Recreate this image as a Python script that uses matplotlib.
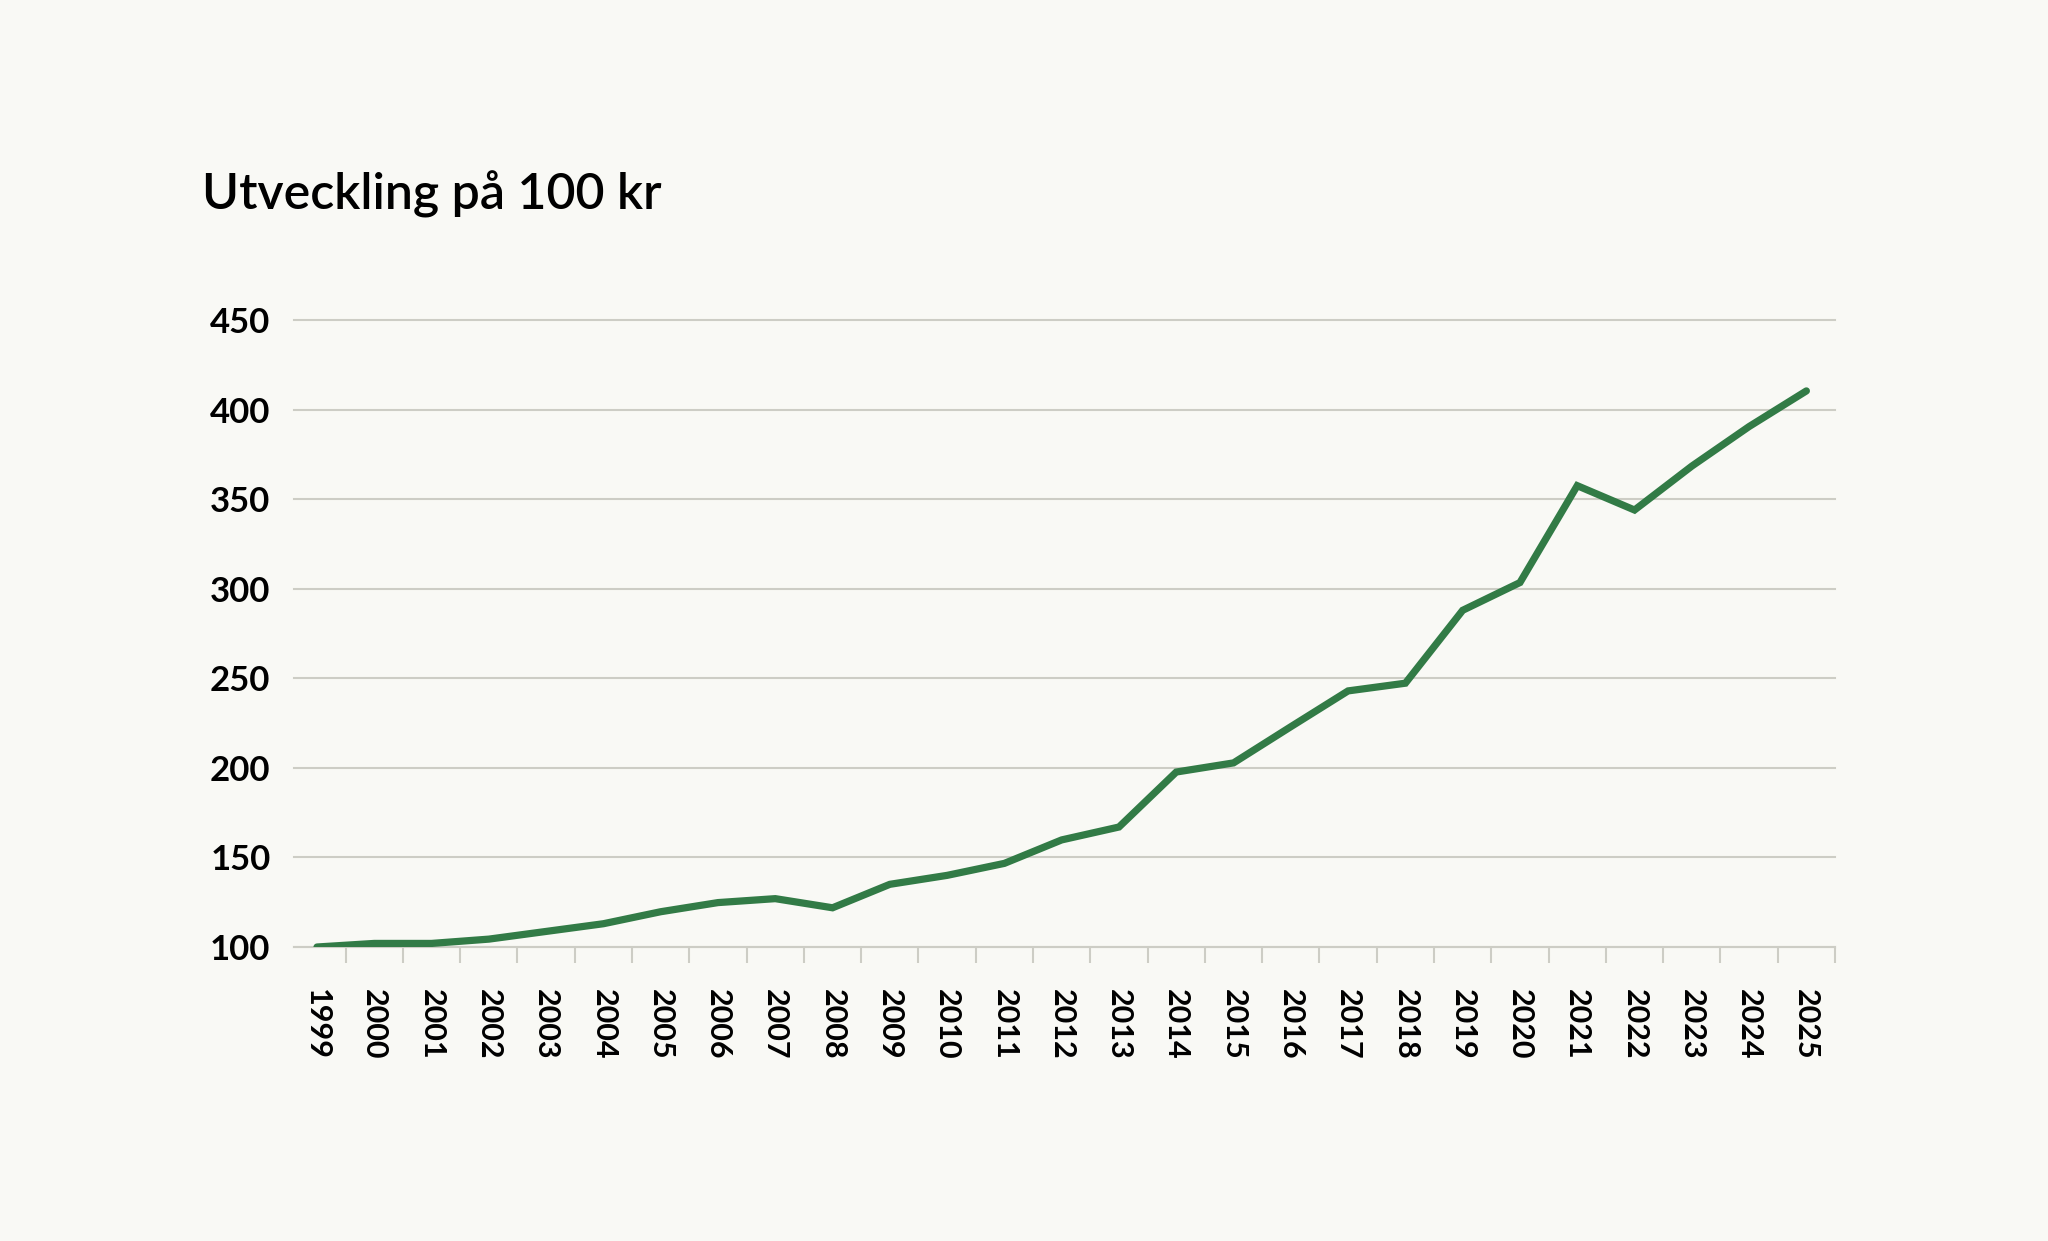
import numpy as np
import matplotlib
matplotlib.use("Agg")
import matplotlib.pyplot as plt
from matplotlib.ticker import FixedLocator

# Data: value of 100 kr over time
years = list(range(1999, 2026))
values = [100, 102, 102, 104.4, 108.7, 113, 119.7, 124.8, 127, 121.9,
          135, 140, 146.7, 159.8, 167, 197.7, 202.8, 223, 243, 247.3,
          288, 303.5, 357.6, 344, 368.5, 390.6, 410.5]
y_ticks = [100, 150, 200, 250, 300, 350, 400, 450]
title = "Utveckling på 100 kr"

bg = "#f9f9f5"
green = "#327b46"
grid_col = "#cdcdc5"

plt.rcParams['font.family'] = ['Lato', 'DejaVu Sans']

fig = plt.figure(figsize=(20.48, 12.41), dpi=100, facecolor=bg)
ax = fig.add_axes([0.1436, 0.2369, 0.896 - 0.1436, 0.742 - 0.2369])
ax.set_facecolor(bg)

x = np.arange(len(years))
ax.plot(x, values, color=green, linewidth=5.2, solid_capstyle='round',
        solid_joinstyle='miter', zorder=3)

ax.set_xlim(-0.4, len(years) - 0.5)
ax.set_ylim(100, 450)

# gridlines
ax.set_yticks(y_ticks)
ax.set_yticklabels([str(v) for v in y_ticks], fontsize=25, fontweight='bold')
ax.tick_params(axis='y', length=0, pad=17, colors='black')
for yt in y_ticks:
    ax.axhline(yt, color=grid_col, linewidth=1.5, zorder=1, clip_on=False)

# category axis: labels at points, tick marks between categories
ax.set_xticks(x)
ax.set_xticklabels([str(y) for y in years], rotation=270, fontsize=22,
                   fontweight='bold', va='top', ha='center')
ax.xaxis.set_minor_locator(FixedLocator(x + 0.5))
ax.tick_params(axis='x', which='major', length=0, pad=30)
ax.tick_params(axis='x', which='minor', length=11.5, width=1.5, color=grid_col)

for s in ['top', 'right', 'left']:
    ax.spines[s].set_visible(False)
ax.spines['bottom'].set_color(grid_col)
ax.spines['bottom'].set_linewidth(1.5)

fig.text(0.0986, 1 - 209 / 1241, title, fontsize=36, fontweight='semibold',
         va='baseline', ha='left')

fig.savefig("out.png", dpi=100, facecolor=bg)
